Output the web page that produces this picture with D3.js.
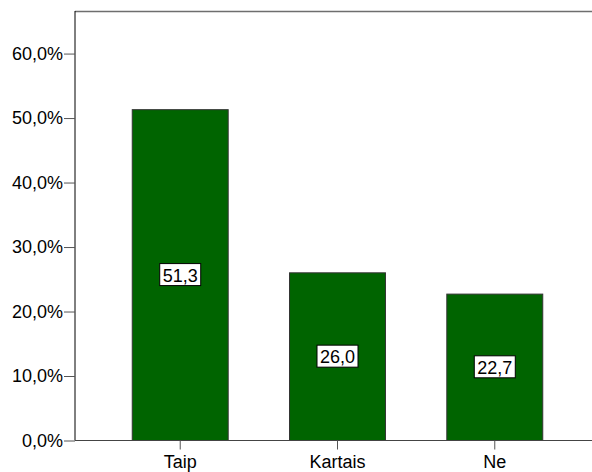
<!DOCTYPE html>
<html>
<head>
<meta charset="utf-8">
<script src="https://cdn.jsdelivr.net/npm/d3@7"></script>
<style>
  html, body { margin: 0; padding: 0; background: #fff; }
  svg { display: block; }
  text { font-family: Arial, "Liberation Sans", sans-serif; fill: #000; }
</style>
</head>
<body>
<svg id="chart" width="592" height="472"></svg>
<script>
// Answer categories and their shares (percent)
const categories = ["Taip", "Kartais", "Ne"];
const percents = [51.3, 26.0, 22.7];
const yTicks = [0, 10, 20, 30, 40, 50, 60];

const plot = { left: 75, right: 600, top: 11, bottom: 440.5 };
const fontSize = 18;

const svg = d3.select("#chart");

const x = d3.scaleBand()
  .domain(categories)
  .range([plot.left, plot.right])
  .paddingInner(0.39)
  .paddingOuter(0.364);

const y = d3.scaleLinear()
  .domain([0, 66.6])
  .range([plot.bottom, plot.top]);

const fmt = v => d3.format(".1f")(v).replace(".", ",");

// plot frame (top edge)
svg.append("line")
  .attr("x1", plot.left).attr("x2", plot.right)
  .attr("y1", plot.top + 0.5).attr("y2", plot.top + 0.5)
  .attr("stroke", "#6e6e6e").attr("stroke-width", 1.5);

// bars
svg.append("g").selectAll("rect")
  .data(categories)
  .join("rect")
  .attr("x", d => x(d))
  .attr("y", (d, i) => y(percents[i]))
  .attr("width", x.bandwidth())
  .attr("height", (d, i) => y(0) - y(percents[i]))
  .attr("fill", "#006400")
  .attr("stroke", "#333")
  .attr("stroke-width", 1);

// y axis
const yAxis = svg.append("g")
  .attr("transform", `translate(${plot.left},0)`)
  .call(d3.axisLeft(y).tickValues(yTicks).tickSize(11).tickPadding(1)
    .tickFormat(d => fmt(d) + "%"));
yAxis.select(".domain").attr("stroke", "#000").attr("d", `M0,${plot.top}V${plot.bottom}`);
yAxis.selectAll(".tick line").attr("stroke", "#555");
yAxis.selectAll(".tick text").attr("font-size", fontSize).style("fill", "#000");

// x axis
const xAxis = svg.append("g")
  .attr("transform", `translate(0,${plot.bottom})`)
  .call(d3.axisBottom(x).tickSize(9).tickPadding(6));
xAxis.select(".domain").attr("stroke", "#444").attr("d", `M${plot.left},0H${plot.right}`);
xAxis.selectAll(".tick line").attr("stroke", "#555");
xAxis.selectAll(".tick text").attr("font-size", fontSize).style("fill", "#000");

// value labels in boxes at bar centres
const labels = svg.append("g").selectAll("g")
  .data(categories)
  .join("g")
  .attr("transform", (d, i) =>
    `translate(${x(d) + x.bandwidth() / 2},${(y(percents[i]) + y(0)) / 2})`);

labels.append("rect")
  .attr("x", -20.5).attr("y", -11.5)
  .attr("width", 41).attr("height", 22)
  .attr("fill", "#fff").attr("stroke", "#000").attr("stroke-width", 1);

labels.append("text")
  .attr("text-anchor", "middle")
  .attr("dy", "0.36em")
  .attr("font-size", fontSize)
  .text((d, i) => fmt(percents[i]));
</script>
</body>
</html>
